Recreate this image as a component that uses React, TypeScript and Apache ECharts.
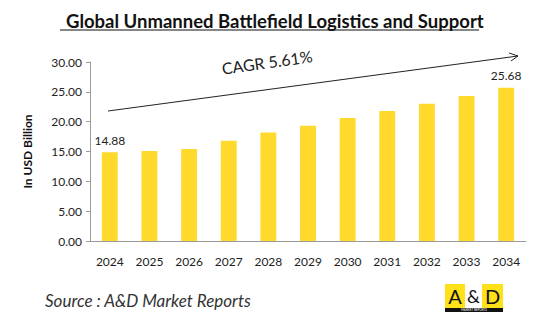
import React, { useEffect, useRef } from "react";
import * as echarts from "echarts";

const years = ["2024", "2025", "2026", "2027", "2028", "2029", "2030", "2031", "2032", "2033", "2034"];
const values = [14.88, 15.1, 15.4, 16.8, 18.2, 19.3, 20.6, 21.8, 23.0, 24.3, 25.68];
const yTicks = { min: 0, max: 30, interval: 5 };
const titleText = "Global Unmanned Battlefield Logistics and Support";
const cagrText = "CAGR 5.61%";
const sourceText = "Source : A&D Market Reports";
const yAxisName = "In USD Billion";

const FONT = "Lato, 'Open Sans', sans-serif";

export default function App() {
  const ref = useRef<HTMLDivElement>(null);
  useEffect(() => {
    document.body.style.margin = "0";
    if (!ref.current) return;
    const chart = echarts.init(ref.current, undefined, { renderer: "svg" });
    const last = values.length - 1;
    chart.setOption({
      animation: false,
      backgroundColor: "#ffffff",
      title: {
        text: titleText,
        left: 61,
        top: 6,
        textStyle: { fontFamily: FONT, fontSize: 18.5, fontWeight: "bold", color: "#111" },
      },
      grid: { left: 90, right: 24, top: 62, bottom: 93 },
      xAxis: {
        type: "category",
        data: years,
        axisLine: { lineStyle: { color: "#9a9a9a" } },
        axisTick: { show: false },
        axisLabel: { fontFamily: FONT, fontSize: 12, color: "#222", margin: 14 },
      },
      yAxis: {
        type: "value",
        min: yTicks.min,
        max: yTicks.max,
        interval: yTicks.interval,
        name: yAxisName,
        nameLocation: "middle",
        nameGap: 57,
        nameRotate: 90,
        nameTextStyle: { fontFamily: FONT, fontSize: 12, fontWeight: "bold", color: "#111" },
        splitLine: { show: false },
        axisLine: { show: true, lineStyle: { color: "#9a9a9a" } },
        axisTick: { show: true, length: 4, lineStyle: { color: "#9a9a9a" } },
        axisLabel: {
          fontFamily: FONT,
          fontSize: 12,
          color: "#222",
          margin: 8,
          formatter: (v: number) => v.toFixed(2),
        },
      },
      series: [
        {
          type: "bar",
          data: values.map((v, i) => ({
            value: v,
            label: {
              show: i === 0 || i === last,
              position: "top",
              distance: 6,
              fontFamily: FONT,
              fontSize: 12,
              color: "#222",
              formatter: (p: any) => p.value.toFixed(2),
            },
          })),
          barWidth: "40%",
          itemStyle: { color: "#FFD92B" },
        },
      ],
      graphic: [
        { type: "line", shape: { x1: 60, y1: 30, x2: 479, y2: 30 }, style: { stroke: "#111", lineWidth: 1.2 } },
        { type: "line", shape: { x1: 108, y1: 111, x2: 518, y2: 56 }, style: { stroke: "#222", lineWidth: 1 } },
        { type: "polyline", shape: { points: [[509, 53], [518, 56], [511, 61]] }, style: { stroke: "#222", lineWidth: 1, fill: "none" } },
        {
          type: "text",
          x: 267,
          y: 62,
          rotation: (8 * Math.PI) / 180,
          style: { text: cagrText, font: `16px ${FONT}`, fill: "#222", align: "center", verticalAlign: "middle" },
        },
        {
          type: "text",
          x: 45,
          y: 300,
          style: { text: sourceText, font: `italic 17px ${FONT}`, fill: "#333", verticalAlign: "middle" },
        },
        { type: "rect", shape: { x: 445, y: 284, width: 58, height: 24 }, style: { fill: "#FFE11A" } },
        { type: "rect", shape: { x: 465, y: 284, width: 17, height: 24 }, style: { fill: "#ffffff" } },
        { type: "rect", shape: { x: 445, y: 308, width: 58, height: 4 }, style: { fill: "#111" } },
        { type: "text", x: 455, y: 296, style: { text: "A", font: `20px ${FONT}`, fill: "#111", align: "center", verticalAlign: "middle" } },
        { type: "text", x: 473.5, y: 296, style: { text: "&", font: `18px ${FONT}`, fill: "#111", align: "center", verticalAlign: "middle" } },
        { type: "text", x: 492.5, y: 296, style: { text: "D", font: `20px ${FONT}`, fill: "#111", align: "center", verticalAlign: "middle" } },
        { type: "text", x: 474, y: 310, style: { text: "MARKET REPORTS", font: `3px ${FONT}`, fill: "#fff", align: "center", verticalAlign: "middle" } },
      ],
    });
    return () => chart.dispose();
  }, []);
  return <div ref={ref} style={{ width: 550, height: 334 }} />;
}
